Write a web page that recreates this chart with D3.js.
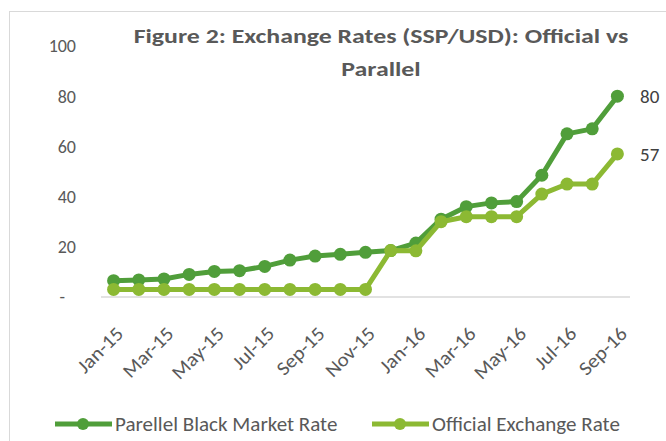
<!DOCTYPE html>
<html>
<head>
<meta charset="utf-8">
<script src="https://cdn.jsdelivr.net/npm/d3@7"></script>
<style>
  body { margin: 0; background: #fff; }
  text { font-family: Carlito, Calibri, Lato, "Open Sans", sans-serif; fill: #595959; }
</style>
</head>
<body>
<svg id="chart" width="666" height="441"></svg>
<script>
var months = ["Jan-15","Feb-15","Mar-15","Apr-15","May-15","Jun-15","Jul-15","Aug-15","Sep-15","Oct-15","Nov-15","Dec-15",
              "Jan-16","Feb-16","Mar-16","Apr-16","May-16","Jun-16","Jul-16","Aug-16","Sep-16"]
// parallel (black market) rate
var parallel = [6.5, 6.8, 7.2, 9, 10.2, 10.5, 12.2, 14.7, 16.3, 17, 17.8, 18.5,
                21.5, 31, 36, 37.5, 38, 48.5, 65, 67, 80]
// official rate
var official = [3, 3, 3, 3, 3, 3, 3, 3, 3, 3, 3, 18.5,
                18.4, 30, 32, 32, 32, 41, 45, 45, 57]
var yTicks = [0, 20, 40, 60, 80, 100]
var seriesNames = ["Parellel Black Market Rate", "Official Exchange Rate"]
var colors = ["#509e3a", "#8cb933"]

var svg = d3.select("#chart")

// chart area frame
svg.append("rect")
  .attr("x", 9.5).attr("y", 11.5)
  .attr("width", 700).attr("height", 500)
  .attr("fill", "#fff").attr("stroke", "#d9d9d9")

var x = d3.scaleBand().domain(months).range([101, 630])
var y = d3.scaleLinear().domain([0, 100]).range([297, 46])

// title (the original is a bit wider than the fallback font)
var title = svg.append("text")
  .attr("transform", "translate(381,0) scale(1.23,1)")
  .attr("text-anchor", "middle")
  .style("font-weight", "bold").style("font-size", "21px")
title.append("tspan").attr("x", 0).attr("y", 43).text("Figure 2: Exchange Rates (SSP/USD): Official vs")
title.append("tspan").attr("x", 0).attr("y", 76).text("Parallel")

// y axis labels (no line)
svg.append("g").selectAll("text")
  .data(yTicks).enter().append("text")
  .attr("x", 76)
  .attr("dx", function(d) { return d === 0 ? -11 : 0; })
  .attr("y", function(d) { return y(d); })
  .attr("dy", "0.35em")
  .attr("text-anchor", "end")
  .style("font-size", "18px")
  .text(function(d) { return d === 0 ? "-" : d; })

// x axis line
svg.append("line")
  .attr("x1", 101).attr("x2", 630)
  .attr("y1", y(0)).attr("y2", y(0))
  .attr("stroke", "#d9d9d9").attr("stroke-width", 1.5)

// x labels, every second month
svg.append("g").selectAll("text")
  .data(months.filter(function(d, i) { return i % 2 === 0; }))
  .enter().append("text")
  .attr("transform", function(d) {
    return "translate(" + (x(d) + x.bandwidth() / 2 + 6) + "," + (y(0) + 33) + ") rotate(-45) scale(1.08,1)";
  })
  .attr("text-anchor", "end")
  .attr("dy", "0.35em")
  .style("font-size", "19.5px")
  .text(function(d) { return d; })

var line = d3.line()
  .x(function(d, i) { return x(months[i]) + x.bandwidth() / 2; })
  .y(function(d) { return y(d); })

var allSeries = [parallel, official]

// official is drawn last, it sits on top in the picture
;[0, 1].forEach(function(s) {
  var data = allSeries[s]
  var g = svg.append("g")
  g.append("path")
    .datum(data)
    .attr("d", line)
    .attr("fill", "none")
    .attr("stroke", colors[s])
    .attr("stroke-width", 5)
    .attr("stroke-linejoin", "round")
  g.selectAll("circle")
    .data(data).enter().append("circle")
    .attr("cx", function(d, i) { return x(months[i]) + x.bandwidth() / 2; })
    .attr("cy", function(d) { return y(d); })
    .attr("r", 6.5)
    .attr("fill", colors[s])
  // end value label
  svg.append("text")
    .attr("x", 640)
    .attr("y", y(data[data.length - 1]))
    .attr("dy", "0.35em")
    .style("font-size", "19px")
    .style("fill", "#404040")
    .text(data[data.length - 1])
})

// legend
var legX = [55, 372]
seriesNames.forEach(function(name, i) {
  var lg = svg.append("g").attr("transform", "translate(" + legX[i] + ",424)")
  lg.append("line").attr("x1", 0).attr("x2", 57).attr("y1", 0).attr("y2", 0)
    .attr("stroke", colors[i]).attr("stroke-width", 5)
  lg.append("circle").attr("cx", 28).attr("cy", 0).attr("r", 6).attr("fill", colors[i])
  lg.append("text").attr("transform", "translate(60,0) scale(1.08,1)")
    .attr("dy", "0.35em")
    .style("font-size", "19.5px")
    .text(name)
})
</script>
</body>
</html>
